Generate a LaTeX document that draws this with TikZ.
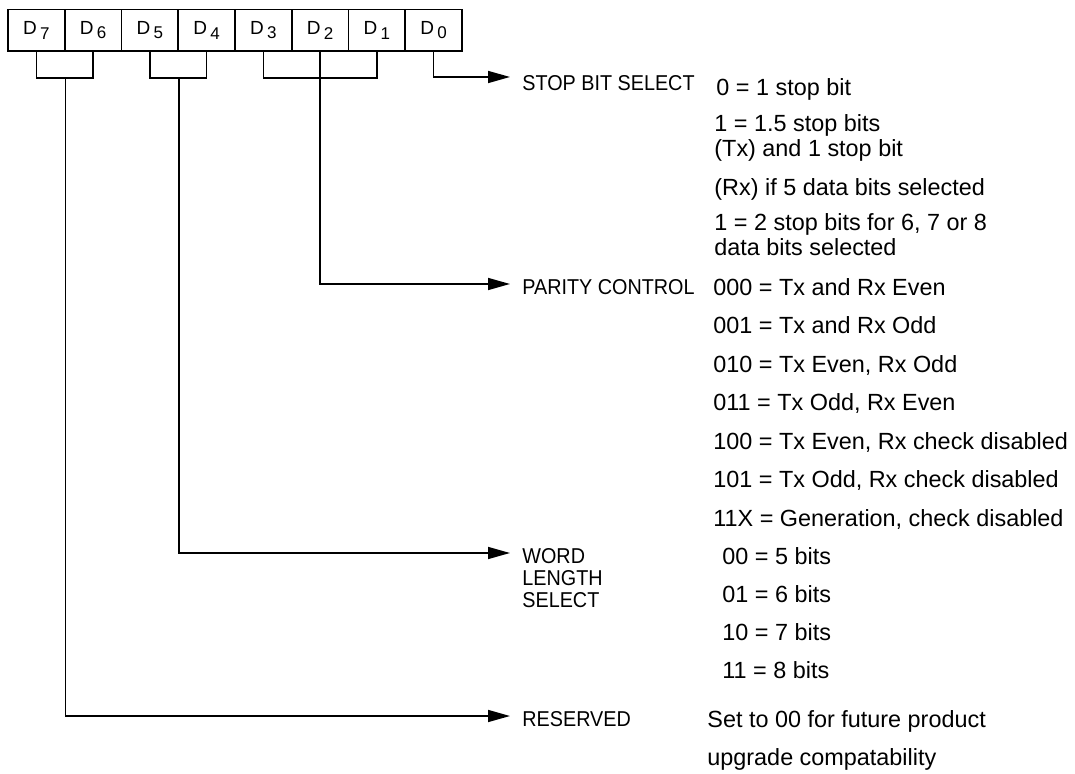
\documentclass[tikz,border=0pt]{standalone}
\usepackage{fontspec}
\setmainfont{Liberation Sans}
\newfontfamily\lblfont[FakeStretch=0.92]{Liberation Sans}
\usetikzlibrary{positioning, arrows.meta}

\newcommand{\dbit}[1]{D\,\raisebox{-0.45ex}{\fontsize{8.5}{9}\selectfont #1}}

\begin{document}
\begin{tikzpicture}[x=0.5pt, y=-0.5pt,
  every node/.style={inner sep=0pt},
  bit/.style={draw, line width=0.8pt, minimum width=28.375pt,
              minimum height=20.75pt, font=\fontsize{9.5}{10}\selectfont},
  fld/.style={anchor=north west, align=left,
              font=\lblfont\fontsize{10.75}{11}\selectfont},
  val/.style={anchor=north west, align=left,
              font=\fontsize{11.7}{#1}\selectfont},
  val/.default=12.5pt,
  wire/.style={line width=0.8pt},
  sel/.style={wire, -{Triangle[length=11pt, width=6pt]}}]

\useasboundingbox (0,0) rectangle (1075,774);

% control register bits
\foreach \b [count=\i from 0] in {7,...,0}
  \node[bit] (d\b) at ({36.4+56.75*\i},30.25) {\dbit{\b}};

% brackets under the bit groups
\draw[wire] (d7.south) -- ++(0,26) -| (d6.south);
\draw[wire] (d5.south) -- ++(0,26) -| (d4.south);
\draw[wire] (d3.south) -- ++(0,26) -| (d1.south);

\coordinate (stopin) at (510,77);
\coordinate (parin)  at (510,284);
\coordinate (wordin) at (510,553);
\coordinate (rsvin)  at (510,716);

\draw[sel] (d0.south) |- (stopin);
\draw[sel] (d2.south) |- (parin);
\draw[sel] ([yshift=-13pt]d5.south east) |- (wordin);
\draw[sel] ([yshift=-13pt]d7.south east) |- (rsvin);

% field names
\node[fld] (stop) at (522,75)  {STOP BIT SELECT};
\node[fld] (par)  at (522,279) {PARITY CONTROL};
\node[fld] (word) at (522,548) {WORD\\LENGTH\\SELECT};
\node[fld] (rsv)  at (522,711) {RESERVED};

% stop bit values
\node[val] (s0) at (716,78)  {0 = 1 stop bit};
\node[val] (s1) at (714,114) {1 = 1.5 stop bits\\(Tx) and 1 stop bit};
\node[val] (s2) at (714,178) {(Rx) if 5 data bits selected};
\node[val] (s3) at (714,213) {1 = 2 stop bits for 6, 7 or 8\\data bits selected};

% parity values
\foreach \t [count=\i from 0] in {000 = Tx and Rx Even, 001 = Tx and Rx Odd,
    {010 = Tx Even, Rx Odd}, {011 = Tx Odd, Rx Even},
    {100 = Tx Even, Rx check disabled}, {101 = Tx Odd, Rx check disabled},
    {11X = Generation, check disabled}}
  \node[val] (p\i) at (713,{278+38.5*\i}) {\t};

% word length values
\foreach \t [count=\i from 0] in {00 = 5 bits, 01 = 6 bits, 10 = 7 bits, 11 = 8 bits}
  \node[val] (w\i) at (722,{547.5+38*\i}) {\t};

\node[val=19pt] (r0) at (707,710.5)
  {Set to 00 for future product\\upgrade compatability};
\end{tikzpicture}
\end{document}
